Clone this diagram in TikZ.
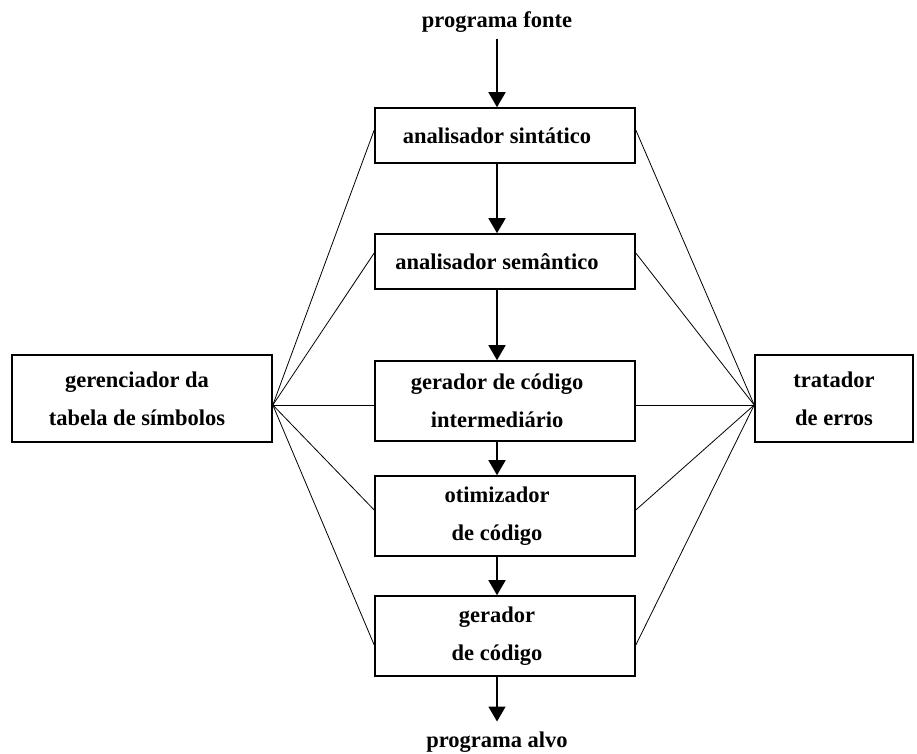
\documentclass[tikz,border=0pt]{standalone}
\usepackage{fontspec}
\setmainfont{Liberation Serif}
\usetikzlibrary{arrows.meta}
\begin{document}
\begin{tikzpicture}[x=1pt,y=-1pt,
  box/.style={draw, line width=1.6pt, minimum width=260pt, inner sep=0pt},
  lbl/.style={font=\fontsize{22.5}{38}\selectfont\bfseries, align=center, inner sep=0pt},
  flow/.style={line width=1.6pt, -{Triangle[width=17pt,length=15pt]}},
  link/.style={line width=0.8pt},
]
\useasboundingbox[fill=white] (0,0) rectangle (917,753);

% compiler phases
\node[box, minimum height=55pt] (sint)  at (505,135.5) {};
\node[box, minimum height=55pt] (sem)   at (505,261.5) {};
\node[box, minimum height=80pt] (inter) at (505,401) {};
\node[box, minimum height=80pt] (otim)  at (505,516) {};
\node[box, minimum height=80pt] (gcod)  at (505,636) {};

% side services
\node[box, minimum width=260pt, minimum height=87pt] (tab) at (142,398.5) {};
\node[box, minimum width=158pt, minimum height=87pt] (err) at (834,398.5) {};

% labels
\node[lbl] (tsrc)   at (497,22)    {programa fonte};
\node[lbl] (tsint)  at (497,135.5) {analisador sintático};
\node[lbl] (tsem)   at (497,261.5) {analisador semântico};
\node[lbl] (tinter) at (497,401)   {gerador de código\\intermediário};
\node[lbl] (totim)  at (497,516)   {otimizador\\de código};
\node[lbl] (tgcod)  at (497,636)   {gerador\\de código};
\node[lbl] (talvo)  at (497,742)   {programa alvo};
\node[lbl] (ttab)   at (137,398.5) {gerenciador da\\tabela de símbolos};
\node[lbl] (terr)   at (834,398.5) {tratador\\de erros};

% main flow
\draw[flow] ([yshift=-6pt]tsrc.south) -- (tsrc.south |- sint.north);
\draw[flow] (tsint |- sint.south) -- (tsint |- sem.north);
\draw[flow] (tsem |- sem.south) -- (tsem |- inter.north);
\draw[flow] (tinter |- inter.south) -- (tinter |- otim.north);
\draw[flow] (totim |- otim.south) -- (totim |- gcod.north);
\draw[flow] (tgcod |- gcod.south) -- ([yshift=10pt]talvo.north);

% links to the symbol table and the error handler
\coordinate (hl) at ([yshift=-6.5pt]tab.east);
\coordinate (hr) at ([yshift=-6.5pt]err.west);
\foreach \b/\s in {sint/5.5, sem/8.5, inter/-4, otim/6, gcod/-9} {
  \draw[link] (hl) -- ([yshift=\s pt]\b.west);
  \draw[link] (hr) -- ([yshift=\s pt]\b.east);
}
\end{tikzpicture}
\end{document}
